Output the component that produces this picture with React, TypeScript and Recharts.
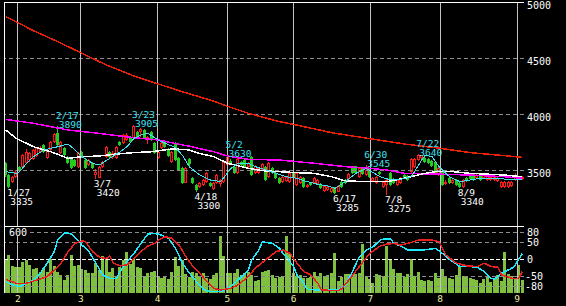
import React from "react";
import {
  ComposedChart,
  Bar,
  Line,
  XAxis,
  YAxis,
  ReferenceLine,
  ReferenceDot,
} from "recharts";

// ─── Data ─────────────────────────────────────────────────────────────────────

// trading days (2022) by month
const tradingDays: [number, number[]][] = [
  [1, [26, 27, 28, 31]],
  [2, [1, 2, 3, 4, 7, 8, 9, 10, 14, 15, 16, 17, 18, 21, 22, 24, 25, 28]],
  [3, [1, 2, 3, 4, 7, 8, 9, 10, 11, 14, 15, 16, 17, 18, 22, 23, 24, 25, 28, 29, 30, 31]],
  [4, [1, 4, 5, 6, 7, 8, 11, 12, 13, 14, 15, 18, 19, 20, 21, 22, 25, 26, 27, 28]],
  [5, [2, 6, 9, 10, 11, 12, 13, 16, 17, 18, 19, 20, 23, 24, 25, 26, 27, 30, 31]],
  [6, [1, 2, 3, 6, 7, 8, 9, 10, 13, 14, 15, 16, 17, 20, 21, 22, 23, 24, 27, 28, 29, 30]],
  [7, [1, 4, 5, 6, 7, 8, 11, 12, 13, 14, 15, 19, 20, 21, 22, 25, 26, 27, 28, 29]],
  [8, [1, 2, 3, 4, 5, 8, 9, 10, 12, 15, 16, 17, 18, 19, 22, 23, 24, 25, 26, 29, 30, 31]],
  [9, [1, 2, 5]],
];

const opens = [
  3562, 3455, 3395, 3440, 3527, 3527, 3562, 3589, 3598, 3625, 3661, 3723, 3607, 3679, 3750, 3830, 3652, 3696, 3616, 3607,
  3589, 3527, 3661, 3589, 3545, 3562, 3455, 3429, 3527, 3616, 3661, 3616, 3607, 3750, 3741, 3768, 3795, 3786, 3839, 3839,
  3857, 3768, 3839, 3741, 3607, 3696, 3750, 3688, 3571, 3741, 3607, 3518, 3384, 3598, 3429, 3366, 3348, 3366, 3393, 3384,
  3330, 3384, 3375, 3393, 3545, 3580, 3527, 3473, 3571, 3589, 3527, 3616, 3473, 3473, 3500, 3527, 3437, 3518, 3473, 3429,
  3393, 3402, 3393, 3473, 3366, 3384, 3429, 3348, 3384, 3384, 3375, 3375, 3313, 3321, 3304, 3339, 3304, 3393, 3411, 3420,
  3518, 3536, 3437, 3518, 3455, 3509, 3402, 3384, 3482, 3348, 3366, 3473, 3420, 3366, 3384, 3455, 3446, 3482, 3527, 3589,
  3607, 3607, 3598, 3580, 3571, 3455, 3482, 3375, 3429, 3384, 3411, 3384, 3348, 3429, 3446, 3446, 3429, 3446, 3429, 3411,
  3411, 3411, 3402, 3348, 3348, 3348, 3357, 3411, 3420, 3420,
];
const highs = [
  3575, 3460, 3450, 3500, 3535, 3645, 3690, 3660, 3690, 3705, 3710, 3735, 3690, 3760, 3830, 3890, 3760, 3705, 3625, 3620,
  3600, 3665, 3670, 3595, 3600, 3570, 3510, 3535, 3580, 3715, 3670, 3670, 3715, 3760, 3825, 3830, 3805, 3905, 3850, 3875,
  3870, 3805, 3850, 3750, 3670, 3750, 3760, 3695, 3670, 3750, 3615, 3525, 3530, 3610, 3440, 3375, 3395, 3420, 3485, 3395,
  3395, 3465, 3420, 3580, 3630, 3600, 3535, 3610, 3580, 3600, 3575, 3625, 3545, 3530, 3565, 3535, 3575, 3530, 3480, 3440,
  3450, 3445, 3480, 3480, 3485, 3450, 3440, 3375, 3395, 3440, 3420, 3385, 3365, 3360, 3350, 3350, 3365, 3400, 3420, 3475,
  3530, 3540, 3530, 3530, 3545, 3520, 3440, 3445, 3490, 3400, 3420, 3480, 3430, 3420, 3440, 3465, 3455, 3610, 3610, 3640,
  3638, 3615, 3605, 3590, 3580, 3530, 3490, 3410, 3440, 3420, 3420, 3390, 3420, 3440, 3460, 3455, 3465, 3455, 3465, 3455,
  3450, 3445, 3440, 3400, 3400, 3400, 3400, 3470, 3445, 3445,
];
const lows = [
  3440, 3335, 3385, 3430, 3480, 3515, 3555, 3575, 3590, 3615, 3650, 3650, 3600, 3670, 3740, 3715, 3645, 3625, 3550, 3505,
  3525, 3520, 3605, 3505, 3535, 3505, 3420, 3425, 3515, 3610, 3605, 3600, 3600, 3715, 3735, 3760, 3740, 3780, 3785, 3795,
  3775, 3730, 3760, 3640, 3600, 3690, 3695, 3615, 3560, 3580, 3490, 3375, 3380, 3540, 3375, 3300, 3340, 3355, 3385, 3350,
  3320, 3375, 3350, 3385, 3535, 3555, 3465, 3465, 3535, 3515, 3520, 3445, 3465, 3465, 3490, 3400, 3430, 3465, 3420, 3375,
  3385, 3395, 3385, 3425, 3360, 3375, 3340, 3340, 3357, 3375, 3365, 3330, 3305, 3310, 3295, 3285, 3300, 3340, 3375, 3410,
  3465, 3465, 3430, 3455, 3445, 3430, 3395, 3375, 3455, 3340, 3275, 3355, 3375, 3355, 3375, 3420, 3400, 3475, 3520, 3580,
  3600, 3565, 3555, 3530, 3465, 3445, 3355, 3365, 3375, 3375, 3355, 3340, 3340, 3395, 3410, 3400, 3420, 3405, 3420, 3400,
  3405, 3400, 3395, 3340, 3342, 3342, 3350, 3400, 3410, 3410,
];
const closes = [
  3455, 3345, 3437, 3482, 3491, 3634, 3661, 3652, 3679, 3696, 3696, 3661, 3679, 3750, 3821, 3723, 3750, 3634, 3562, 3518,
  3536, 3652, 3616, 3518, 3589, 3518, 3482, 3527, 3571, 3705, 3616, 3652, 3705, 3723, 3812, 3812, 3750, 3893, 3795, 3866,
  3786, 3795, 3768, 3652, 3661, 3741, 3705, 3625, 3661, 3589, 3500, 3384, 3518, 3554, 3384, 3321, 3384, 3411, 3473, 3357,
  3384, 3455, 3411, 3571, 3616, 3562, 3473, 3598, 3545, 3527, 3562, 3455, 3536, 3518, 3554, 3411, 3562, 3473, 3429, 3384,
  3437, 3437, 3473, 3437, 3473, 3437, 3348, 3366, 3366, 3429, 3411, 3339, 3357, 3348, 3339, 3295, 3357, 3348, 3384, 3464,
  3473, 3473, 3518, 3464, 3500, 3437, 3429, 3437, 3464, 3393, 3411, 3366, 3384, 3411, 3429, 3429, 3411, 3598, 3598, 3634,
  3634, 3571, 3562, 3536, 3473, 3518, 3366, 3393, 3384, 3411, 3366, 3345, 3411, 3402, 3420, 3411, 3455, 3411, 3455, 3446,
  3437, 3437, 3429, 3393, 3393, 3393, 3393, 3446, 3437, 3437,
];
const volumes = [
  337, 380, 270, 257, 263, 313, 330, 280, 237, 247, 213, 247, 213, 337, 270, 213, 180, 130, 180, 380,
  270, 280, 237, 230, 197, 203, 303, 230, 370, 337, 213, 247, 163, 263, 330, 413, 290, 337, 263, 247,
  170, 197, 213, 223, 157, 147, 163, 137, 213, 363, 270, 330, 190, 163, 213, 197, 157, 197, 147, 137,
  180, 197, 570, 370, 203, 203, 197, 237, 180, 203, 213, 180, 123, 130, 213, 223, 230, 180, 147, 163,
  170, 570, 403, 203, 170, 180, 147, 147, 157, 213, 170, 203, 170, 180, 203, 403, 123, 157, 190, 190,
  190, 190, 197, 490, 170, 137, 103, 190, 180, 170, 470, 337, 237, 203, 197, 157, 190, 343, 170, 213,
  130, 123, 130, 123, 197, 147, 237, 170, 147, 137, 180, 257, 170, 157, 147, 137, 130, 103, 137, 170,
  113, 137, 180, 123, 413, 190, 170, 137, 280, 130,
];

// moving averages, [trading day index, value]
const ma200Pts: [number, number][] = [
  [0, 4869], [8, 4744], [15, 4646], [22, 4542], [29, 4438], [37, 4339], [44, 4268], [50, 4208], [60, 4115],
  [64, 4068], [70, 4006], [79, 3931], [83, 3908], [94, 3833], [105, 3780], [115, 3732], [124, 3699], [134, 3655],
  [144, 3628], [149, 3613],
];
const ma75Pts: [number, number][] = [
  [0, 3952], [8, 3917], [18, 3857], [27, 3827], [37, 3788], [44, 3768], [50, 3730], [53, 3712], [60, 3663],
  [64, 3625], [70, 3595], [79, 3589], [89, 3560], [98, 3530], [105, 3515], [110, 3500], [115, 3470], [124, 3464],
  [134, 3455], [144, 3440], [149, 3426],
];
const ma25Pts: [number, number][] = [
  [0, 3857], [3, 3783], [8, 3708], [13, 3663], [18, 3604], [22, 3619], [27, 3625], [32, 3643], [37, 3655],
  [42, 3663], [48, 3688], [50, 3685], [53, 3679], [55, 3655], [60, 3619], [64, 3560], [70, 3515], [74, 3494],
  [79, 3485], [84, 3476], [89, 3470], [94, 3440], [98, 3402], [105, 3396], [110, 3396], [115, 3426], [120, 3464],
  [124, 3485], [129, 3485], [134, 3470], [144, 3455], [149, 3440],
];
const ma5Pts: [number, number][] = [
  [0, 3485], [3, 3470], [4, 3485], [6, 3560], [8, 3619], [11, 3679], [15, 3708], [18, 3732], [20, 3679],
  [22, 3619], [25, 3560], [27, 3545], [30, 3604], [33, 3663], [35, 3708], [37, 3783], [39, 3812], [41, 3827],
  [44, 3768], [46, 3738], [49, 3700], [51, 3630], [53, 3527], [56, 3455], [59, 3411], [62, 3396], [65, 3515],
  [67, 3560], [70, 3560], [72, 3530], [75, 3500], [78, 3470], [81, 3440], [84, 3426], [87, 3396], [90, 3372],
  [93, 3357], [95, 3336], [98, 3396], [101, 3470], [104, 3515], [105, 3494], [108, 3440], [111, 3411], [114, 3417],
  [117, 3440], [120, 3589], [121, 3634], [123, 3619], [125, 3530], [128, 3440], [131, 3396], [134, 3411],
  [137, 3426], [142, 3426], [146, 3411], [149, 3417],
];

// oscillators (-100..100)
const fastOscPts: [number, number][] = [
  [0, -66], [2, -76], [4, -81], [6, -71], [8, -61], [10, -41], [12, -11], [14, 24], [15, 58], [17, 80], [19, 76],
  [21, 56], [22, 43], [24, 24], [26, -11], [28, -46], [30, -56], [32, -56], [33, -36], [35, -6], [37, 18], [39, 48],
  [41, 76], [43, 78], [45, 73], [47, 63], [49, 33], [51, -11], [53, -41], [55, -66], [57, -89], [59, -96], [62, -96],
  [64, -86], [66, -71], [68, -51], [70, -31], [71, -1], [73, 28], [74, 53], [77, 48], [79, 33], [80, 18], [81, 8],
  [83, -21], [84, -46], [86, -71], [87, -89], [90, -91], [93, -91], [96, -91], [98, -76], [100, -36], [102, 8],
  [104, 28], [106, 38], [108, 58], [109, 61], [111, 61], [112, 48], [114, 40], [116, 28], [120, 28], [124, 33],
  [126, 18], [128, 0], [131, -21], [134, -21], [136, -23], [138, -36], [140, -56], [141, -59], [143, -41],
  [146, -26], [147, -16], [149, 18],
];
const slowOscPts: [number, number][] = [
  [0, -59], [3, -71], [6, -71], [9, -61], [12, -51], [14, -31], [16, -11], [18, 24], [20, 48], [22, 56], [23, 53],
  [25, 24], [27, 7], [29, 3], [30, 10], [31, -11], [33, -19], [35, -16], [37, 3], [39, 24], [41, 40], [43, 48],
  [44, 58], [46, 68], [48, 63], [50, 43], [52, 8], [54, -21], [56, -41], [58, -66], [60, -86], [62, -91], [65, -86],
  [67, -76], [70, -51], [72, -26], [75, -1], [78, 24], [80, 28], [82, 18], [84, -11], [86, -36], [88, -46],
  [90, -71], [91, -91], [96, -93], [97, -86], [99, -61], [102, -21], [105, 18], [108, 40], [110, 46], [112, 48],
  [114, 43], [117, 51], [119, 58], [123, 58], [125, 53], [127, 13], [130, -11], [133, -19], [136, -21], [138, -11],
  [140, -21], [142, -23], [143, -46], [146, -56], [148, -56], [149, -36],
];

const highMarks = [
  { date: "2/17", price: 3890 },
  { date: "3/23", price: 3905 },
  { date: "5/2", price: 3630 },
  { date: "6/30", price: 3545 },
  { date: "7/22", price: 3640 },
];
const lowMarks = [
  { date: "1/27", price: 3335 },
  { date: "3/7", price: 3420 },
  { date: "4/18", price: 3300 },
  { date: "6/17", price: 3285 },
  { date: "7/8", price: 3275 },
  { date: "8/9", price: 3340 },
];

const priceTicks = [3500, 4000, 4500, 5000];
const oscTicks = [80, 50, 0, -50, -80];

// ─── Derived rows ─────────────────────────────────────────────────────────────

const dates = tradingDays.flatMap(([m, days]) => days.map((d) => `${m}/${d}`));
const monthOf = tradingDays.flatMap(([m, days]) => days.map(() => m));
const monthTicks = monthOf.map((m, i) => (i > 0 && m !== monthOf[i - 1] ? i : -1)).filter((i) => i >= 0);

const ma200 = new Map(ma200Pts);
const ma75 = new Map(ma75Pts);
const ma25 = new Map(ma25Pts);
const ma5 = new Map(ma5Pts);
const fastOsc = new Map(fastOscPts);
const slowOsc = new Map(slowOscPts);

const priceRows = dates.map((date, i) => ({
  date,
  range: [lows[i], highs[i]],
  o: opens[i],
  h: highs[i],
  l: lows[i],
  c: closes[i],
  ma200: ma200.get(i) ?? null,
  ma75: ma75.get(i) ?? null,
  ma25: ma25.get(i) ?? null,
  ma5: ma5.get(i) ?? null,
}));

const lowerRows = dates.map((date, i) => ({
  date,
  vol: volumes[i],
  fast: fastOsc.get(i) ?? null,
  slow: slowOsc.get(i) ?? null,
}));

// ─── Styles ───────────────────────────────────────────────────────────────────

const MONO = '"DejaVu Sans Mono", monospace';
const UP = "#ff1a1a";
const DOWN = "#22cc22";
const CYAN = "#3fe0f0";
const GRID = "#c4c4c4";
const DASH = "#8c8c8c";
const LOWER_H = 80;

// ─── Pieces ───────────────────────────────────────────────────────────────────

// eslint-disable-next-line @typescript-eslint/no-explicit-any
function Candle(props: any) {
  const { x, y, width, height, payload } = props;
  if (x == null || !payload) return null;
  const top = Math.min(y, y + height);
  const bottom = Math.max(y, y + height);
  const span = payload.h - payload.l;
  const py = (v: number) =>
    Math.round(span > 0 ? top + ((payload.h - v) / span) * (bottom - top) : top);
  const cx = Math.floor(x + width / 2);
  const up = payload.c >= payload.o;
  const bTop = py(Math.max(payload.o, payload.c));
  const bBot = Math.max(py(Math.min(payload.o, payload.c)), bTop + 1);
  const color = up ? UP : DOWN;
  return (
    <g>
      <line x1={cx + 0.5} x2={cx + 0.5} y1={py(payload.h)} y2={py(payload.l)} stroke={color} />
      {up ? (
        <rect x={cx - 0.5} y={bTop + 0.5} width={2} height={bBot - bTop - 1 > 0 ? bBot - bTop - 1 : 0.01} fill="#000" stroke={color} />
      ) : (
        <rect x={cx - 1} y={bTop} width={3} height={bBot - bTop} fill={color} />
      )}
    </g>
  );
}

// eslint-disable-next-line @typescript-eslint/no-explicit-any
function PriceTick(props: any) {
  const { x, y, payload } = props;
  return (
    <text x={x} y={y + 7} fill="#fff" fontSize={10} fontFamily={MONO}>
      {payload.value}
    </text>
  );
}

// eslint-disable-next-line @typescript-eslint/no-explicit-any
function OscTick(props: any) {
  const { x, y, payload } = props;
  return (
    <text x={payload.value < 0 ? x - 2 : x} y={y + 3.5} fill="#fff" fontSize={10} fontFamily={MONO}>
      {payload.value}
    </text>
  );
}

// month number under the panel, baseline 4px above the chart's bottom edge
// eslint-disable-next-line @typescript-eslint/no-explicit-any
function MonthTick(props: any) {
  const { x, payload } = props;
  return (
    <text x={x} y={LOWER_H - 4} fill="#eeeea0" fontSize={9.5} fontFamily={MONO} textAnchor="middle">
      {monthOf[payload.value]}
    </text>
  );
}

function markShape(date: string, price: number, high: boolean) {
  // eslint-disable-next-line @typescript-eslint/no-explicit-any
  return (p: any) => {
    const { cx, cy } = p;
    const fill = high ? CYAN : "#fff";
    const d1 = high ? -7 : 8;
    const d2 = high ? 2 : 17;
    return (
      <g>
        <text x={cx - 2} y={cy + d1} fill={fill} fontSize={9.5} fontFamily={MONO}>
          {date}
        </text>
        <text x={cx + 1} y={cy + d2} fill={fill} fontSize={9.5} fontFamily={MONO}>
          {price}
        </text>
      </g>
    );
  };
}

// ─── Component ────────────────────────────────────────────────────────────────

export default function App() {
  const last = dates.length;
  return (
    <div
      style={{
        position: "fixed",
        left: 0,
        top: 0,
        width: 566,
        height: 306,
        background: "#000",
        overflow: "hidden",
      }}
    >
      <style>{`svg line, svg path, svg rect { shape-rendering: crispEdges; }`}</style>

      {/* Price panel */}
      <div style={{ position: "absolute", left: 0, top: 0 }}>
        <ComposedChart width={566} height={227} data={priceRows} margin={{ top: 2, right: 0, bottom: 1, left: 4 }}>
          <XAxis dataKey="date" hide />
          <XAxis xAxisId="num" type="number" domain={[0, last]} hide allowDataOverflow />
          <YAxis
            orientation="right"
            domain={[3000, 5000]}
            ticks={priceTicks}
            interval={0}
            width={42}
            axisLine={false}
            tickLine={false}
            tickSize={0}
            tickMargin={3}
            tick={<PriceTick />}
            allowDataOverflow
          />
          {priceTicks.slice(0, 3).map((t) => (
            <ReferenceLine key={t} y={t} stroke={DASH} strokeDasharray="4 3" />
          ))}
          <Bar dataKey="range" barSize={3} shape={<Candle />} isAnimationActive={false} />
          {monthTicks.map((t) => (
            <ReferenceLine key={t} xAxisId="num" x={t} stroke={GRID} />
          ))}
          <ReferenceLine y={5000} stroke="#fff" />
          <ReferenceLine y={3000} stroke="#fff" />
          <ReferenceLine xAxisId="num" x={0} stroke="#fff" />
          <ReferenceLine xAxisId="num" x={last} stroke="#fff" />
          <Line dataKey="ma200" stroke="#e8200a" strokeWidth={1.5} dot={false} connectNulls isAnimationActive={false} />
          <Line dataKey="ma75" stroke="#ff00ff" strokeWidth={1.5} dot={false} connectNulls isAnimationActive={false} />
          <Line dataKey="ma25" stroke="#ffffff" strokeWidth={1.5} dot={false} connectNulls isAnimationActive={false} />
          <Line dataKey="ma5" stroke={CYAN} dot={false} connectNulls isAnimationActive={false} />
          {highMarks.map((m) => (
            <ReferenceDot key={m.date} x={m.date} y={m.price} r={0} shape={markShape(m.date, m.price, true)} />
          ))}
          {lowMarks.map((m) => (
            <ReferenceDot key={m.date} x={m.date} y={m.price} r={0} shape={markShape(m.date, m.price, false)} />
          ))}
        </ComposedChart>
      </div>

      {/* Volume + oscillator panel */}
      <div style={{ position: "absolute", left: 0, top: 226 }}>
        <ComposedChart width={566} height={LOWER_H} data={lowerRows} margin={{ top: 0, right: 0, bottom: 0, left: 4 }}>
          <XAxis dataKey="date" hide />
          <XAxis
            xAxisId="num"
            type="number"
            domain={[0, last]}
            ticks={monthTicks}
            interval={0}
            height={13}
            axisLine={{ stroke: "#fff" }}
            tickLine={false}
            tickSize={0}
            tickMargin={0}
            tick={<MonthTick />}
            allowDataOverflow
          />
          <YAxis yAxisId="vol" hide domain={[0, 670]} allowDataOverflow />
          <YAxis
            yAxisId="osc"
            orientation="right"
            domain={[-100, 100]}
            ticks={oscTicks}
            interval={0}
            width={42}
            axisLine={false}
            tickLine={false}
            tickSize={0}
            tickMargin={3}
            tick={<OscTick />}
            allowDataOverflow
          />
          <Bar yAxisId="vol" dataKey="vol" fill="#80c040" barSize={3} isAnimationActive={false} />
          {oscTicks.map((t) => (
            <ReferenceLine
              key={t}
              yAxisId="osc"
              y={t}
              stroke={t === 0 ? "#fff" : DASH}
              strokeDasharray={t === 0 ? "4 2" : "4 3"}
            />
          ))}
          {monthTicks.map((t) => (
            <ReferenceLine key={t} yAxisId="osc" xAxisId="num" x={t} stroke={GRID} />
          ))}
          <ReferenceLine yAxisId="osc" y={100} stroke="#fff" />
          <ReferenceLine yAxisId="osc" xAxisId="num" x={0} stroke="#fff" />
          <ReferenceLine yAxisId="osc" xAxisId="num" x={last} stroke="#fff" />
          <ReferenceLine
            yAxisId="vol"
            y={600}
            stroke="none"
            // eslint-disable-next-line @typescript-eslint/no-explicit-any
            label={(p: any) => (
              <g>
                <rect x={p.viewBox.x + 1} y={p.viewBox.y - 6} width={22} height={9} fill="#000" />
                <text x={p.viewBox.x + 5} y={p.viewBox.y + 2.5} fill="#fff" fontSize={10} fontFamily={MONO}>
                  600
                </text>
              </g>
            )}
          />
          <Line yAxisId="osc" dataKey="fast" stroke="#20e8ff" strokeWidth={1.5} dot={false} connectNulls isAnimationActive={false} />
          <Line yAxisId="osc" dataKey="slow" stroke="#e82020" strokeWidth={1.5} dot={false} connectNulls isAnimationActive={false} />
        </ComposedChart>
      </div>
    </div>
  );
}
